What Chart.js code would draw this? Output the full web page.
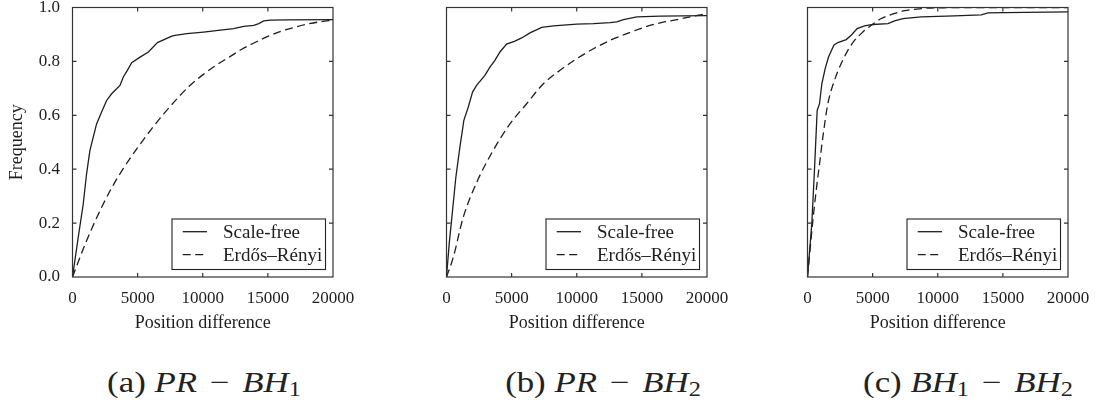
<!DOCTYPE html>
<html>
<head>
<meta charset="utf-8">
<script src="https://cdn.jsdelivr.net/npm/chart.js@4.4.1/dist/chart.umd.min.js"></script>
<style>
  html, body { margin: 0; padding: 0; background: #fff; }
  body { width: 1096px; height: 403px; position: relative; overflow: hidden; }
  canvas { position: absolute; top: 0; }
  .cap { position: absolute; width: 300px; text-align: center; font-family: 'Liberation Serif', serif;
         font-size: 29px; line-height: 30px; color: #222; top: 367px; white-space: nowrap;
         transform: scaleX(1.2); transform-origin: 50% 50%; }
  .cap i { font-style: italic; }
  .cap .op { margin: 0 0.12em; }
  .cap sub { font-size: 70%; vertical-align: -0.22em; line-height: 0; }
</style>
</head>
<body>
<canvas id="ca" width="360" height="345" style="left:0px"></canvas>
<canvas id="cb" width="360" height="345" style="left:373.8px"></canvas>
<canvas id="cc" width="360" height="345" style="left:734.5px"></canvas>
<div class="cap" style="left:54px">(a) <i>PR</i><span class="op"> − </span><i>BH</i><sub>1</sub></div>
<div class="cap" style="left:452.5px">(b) <i>PR</i><span class="op"> − </span><i>BH</i><sub>2</sub></div>
<div class="cap" style="left:818px">(c) <i>BH</i><sub>1</sub><span class="op"> − </span><i>BH</i><sub>2</sub></div>
<script>
// ---- data ----
const seriesLabels = ['Scale-free', 'Erdős–Rényi'];
const xTickValues = [0, 5000, 10000, 15000, 20000];
const yTickValues = [0.0, 0.2, 0.4, 0.6, 0.8, 1.0];
const xAxisTitle = 'Position difference';
const yAxisTitle = 'Frequency';

// (a) PR - BH1
const aScaleFreeX = [0, 436, 822, 1078, 1335, 1463, 1849, 2234, 2619, 3004, 3646, 3902, 4210, 4544, 5186, 5828, 6521, 7497, 7754, 8781, 10064, 11348, 12375, 13145, 13915, 14300, 14685, 15199, 16483, 20000];
const aScaleFreeY = [0, 0.146, 0.27, 0.382, 0.469, 0.494, 0.568, 0.612, 0.655, 0.68, 0.711, 0.742, 0.767, 0.795, 0.816, 0.835, 0.87, 0.891, 0.896, 0.903, 0.909, 0.916, 0.922, 0.93, 0.934, 0.94, 0.95, 0.953, 0.954, 0.955];
const aErdosX = [0, 1000, 2000, 3000, 4000, 5000, 6000, 7000, 8000, 9000, 10000, 11000, 12000, 13000, 14000, 15000, 16000, 17000, 18000, 19000, 20000];
const aErdosY = [0, 0.125, 0.235, 0.33, 0.41, 0.48, 0.545, 0.605, 0.66, 0.71, 0.75, 0.785, 0.815, 0.845, 0.87, 0.893, 0.912, 0.926, 0.938, 0.947, 0.953];

// (b) PR - BH2
const bScaleFreeX = [0, 205, 462, 718, 1026, 1333, 1667, 2000, 2308, 2949, 3333, 3718, 4103, 4615, 5256, 5769, 6410, 7308, 8205, 10000, 11282, 12564, 13077, 13590, 14615, 16410, 20000];
const bScaleFreeY = [0, 0.122, 0.246, 0.37, 0.481, 0.581, 0.63, 0.686, 0.711, 0.748, 0.779, 0.804, 0.835, 0.864, 0.875, 0.887, 0.906, 0.926, 0.932, 0.938, 0.94, 0.944, 0.947, 0.955, 0.965, 0.968, 0.97];
const bErdosX = [0, 513, 1282, 2308, 3590, 4872, 6154, 7436, 8718, 10000, 11282, 12564, 13846, 15128, 16410, 17692, 18974, 20000];
const bErdosY = [0, 0.072, 0.221, 0.35, 0.47, 0.568, 0.643, 0.717, 0.767, 0.81, 0.847, 0.878, 0.903, 0.926, 0.943, 0.955, 0.968, 0.978];

// (c) BH1 - BH2
const cScaleFreeX = [0, 333, 538, 743, 922, 1101, 1357, 1613, 2023, 2330, 2970, 3354, 3815, 4379, 5019, 6172, 6684, 7324, 8732, 11293, 13342, 13854, 15134, 20000];
const cScaleFreeY = [0, 0.2, 0.4, 0.618, 0.643, 0.717, 0.773, 0.816, 0.86, 0.87, 0.881, 0.897, 0.922, 0.932, 0.937, 0.94, 0.95, 0.959, 0.965, 0.969, 0.973, 0.98, 0.981, 0.984];
const cErdosX = [0, 410, 666, 922, 1178, 1562, 2074, 2586, 3098, 3611, 4251, 4891, 5659, 6684, 7452, 8732, 10013, 20000];
const cErdosY = [0, 0.208, 0.32, 0.419, 0.519, 0.643, 0.73, 0.792, 0.841, 0.878, 0.909, 0.934, 0.959, 0.978, 0.988, 0.996, 0.999, 1.0];

// ---- drawing ----
const FONT = "'Liberation Serif', 'DejaVu Serif', serif";
const INK = '#1e1e1e';
Chart.defaults.font.family = FONT;
Chart.defaults.color = INK;

function pts(xs, ys) { return xs.map((x, i) => ({ x: x, y: ys[i] })); }

const framePlugin = {
  id: 'frameLegend',
  afterDatasetsDraw(chart) {
    const { ctx, chartArea: a } = chart;
    const xs = chart.scales.x, ys = chart.scales.y;
    const L = 4;
    ctx.save();
    ctx.strokeStyle = '#333';
    ctx.lineWidth = 1.2;
    ctx.beginPath();
    xTickValues.forEach(v => {
      if (v <= xs.min || v >= xs.max) return;
      const p = xs.getPixelForValue(v);
      ctx.moveTo(p, a.bottom); ctx.lineTo(p, a.bottom - L);
      ctx.moveTo(p, a.top); ctx.lineTo(p, a.top + L);
    });
    yTickValues.forEach(v => {
      if (v <= ys.min || v >= ys.max) return;
      const p = ys.getPixelForValue(v);
      ctx.moveTo(a.left, p); ctx.lineTo(a.left + L, p);
      ctx.moveTo(a.right, p); ctx.lineTo(a.right - L, p);
    });
    ctx.stroke();
    ctx.strokeRect(a.left, a.top, a.right - a.left, a.bottom - a.top);

    // legend box (bottom-right, inside plot)
    const bw = 153.5, bh = 50.5;
    const bx = a.right - 7.5 - bw, by = a.bottom - 7.5 - bh;
    ctx.fillStyle = '#fff';
    ctx.fillRect(bx, by, bw, bh);
    ctx.lineWidth = 1.1;
    ctx.strokeStyle = '#222';
    ctx.strokeRect(bx, by, bw, bh);
    ctx.font = "19px " + FONT;
    ctx.textBaseline = 'middle';
    ctx.textAlign = 'left';
    chart.data.datasets.forEach((ds, i) => {
      const ry = by + 12.7 + i * 23;
      ctx.beginPath();
      ctx.setLineDash(ds.borderDash || []);
      ctx.lineWidth = ds.borderWidth;
      ctx.strokeStyle = ds.borderColor;
      ctx.moveTo(bx + 10.7, ry); ctx.lineTo(bx + 35, ry);
      ctx.stroke();
      ctx.setLineDash([]);
      ctx.fillStyle = INK;
      ctx.fillText(ds.label, bx + 51, ry + 1);
    });
    ctx.restore();
  }
};

function zeroPad(s) { s.paddingLeft = 0; s.paddingRight = 0; s.paddingTop = 0; s.paddingBottom = 0; }

function makeChart(id, sfX, sfY, erX, erY, showY) {
  return new Chart(document.getElementById(id), {
    type: 'line',
    data: {
      datasets: [
        { label: seriesLabels[0], data: pts(sfX, sfY), borderColor: INK, borderWidth: 1.3,
          pointRadius: 0, tension: 0, fill: false },
        { label: seriesLabels[1], data: pts(erX, erY), borderColor: INK, borderWidth: 1.3,
          borderDash: [8, 4.5], pointRadius: 0, cubicInterpolationMode: 'monotone', fill: false }
      ]
    },
    options: {
      responsive: false,
      animation: false,
      devicePixelRatio: 1,
      layout: { padding: { left: 0, right: 27, top: 7.5, bottom: 0 } },
      plugins: { legend: { display: false }, tooltip: { enabled: false } },
      scales: {
        x: {
          type: 'linear', min: 0, max: 20000,
          afterBuildTicks: s => { s.ticks = xTickValues.map(v => ({ value: v })); },
          ticks: { callback: v => String(v), font: { size: 17 }, color: INK, padding: 11, maxRotation: 0, autoSkip: false },
          grid: { display: false, drawTicks: false, tickLength: 0 },
          border: { display: false },
          title: { display: true, text: xAxisTitle, font: { size: 18 }, color: INK, padding: { top: 0, bottom: 11 } },
          afterFit: s => { s.height = 68; zeroPad(s); }
        },
        y: {
          type: 'linear', min: 0, max: 1,
          afterBuildTicks: s => { s.ticks = yTickValues.map(v => ({ value: v })); },
          ticks: { display: showY, callback: v => Number(v).toFixed(1), font: { size: 17 }, color: INK, padding: 12.5 },
          grid: { display: false, drawTicks: false, tickLength: 0 },
          border: { display: false },
          title: { display: showY, text: yAxisTitle, font: { size: 18 }, color: INK, padding: { top: 6.2, bottom: 0 } },
          afterFit: s => { s.width = 72.5; zeroPad(s); }
        }
      }
    },
    plugins: [framePlugin]
  });
}

makeChart('ca', aScaleFreeX, aScaleFreeY, aErdosX, aErdosY, true);
makeChart('cb', bScaleFreeX, bScaleFreeY, bErdosX, bErdosY, false);
makeChart('cc', cScaleFreeX, cScaleFreeY, cErdosX, cErdosY, false);
</script>
</body>
</html>
